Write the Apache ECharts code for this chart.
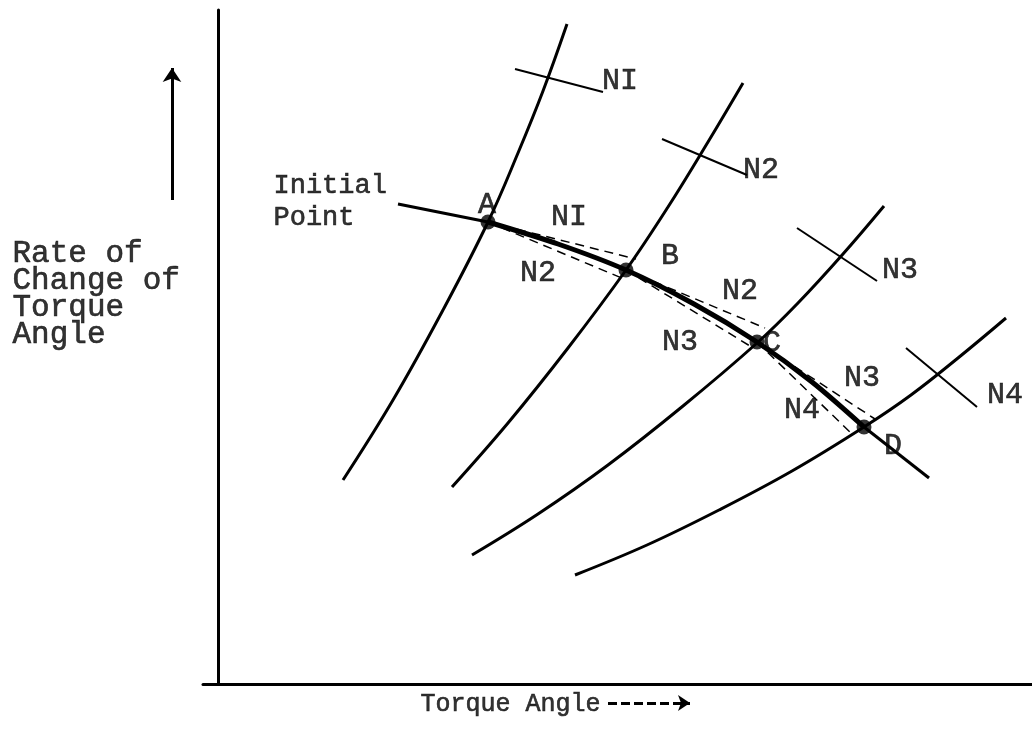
<!DOCTYPE html>
<html>
<head>
<meta charset="utf-8">
<script src="https://cdn.jsdelivr.net/npm/echarts@6/dist/echarts.min.js"></script>
<style>
  html, body { margin: 0; padding: 0; background: #fff; }
  #chart { width: 1032px; height: 731px; }
</style>
</head>
<body>
<div id="chart"></div>
<script>
// units: torque angle (x) and rate of change (y), origin at the axes corner

// constant-N curves (bottom to top)
var curveN1 = [[125, 204], [175, 284], [225, 374], [270, 462], [300, 531], [325, 593], [349, 660]];
var curveN2 = [[234, 197], [290, 261], [350, 336], [408, 414], [450, 477], [490, 542], [525, 601]];
var curveN3 = [[254, 129], [320, 170], [390, 219], [465, 278], [539, 341], [580, 381], [625, 430], [666, 478]];
var curveN4 = [[357, 109], [429, 139], [501, 174], [574, 213], [646, 257], [693, 289], [740, 326], [788, 366]];

// swing trajectory
var pathStart = [[180, 480], [270, 462]];
var pathMain = [[270, 462], [340, 440], [408, 414], [476, 380], [539, 342], [594, 302], [646, 257]];
var pathEnd = [[646, 257], [711, 206]];

// step points
var stepNames = ["A", "B", "C", "D"];
var stepX = [270, 408, 539, 646];
var stepY = [462, 414, 342, 257];

// short cross marks naming each curve
var crossMarks = [
  [[297, 615], [385, 592]],
  [[444, 545], [529, 509]],
  [[579, 456], [659, 403]],
  [[688, 336], [759, 277]]
];
var crossNames = [[402, 603, "NI"], [543, 514, "N2"], [682, 414, "N3"], [787, 289, "N4"]];

// dashed chords from each step point
var chords = [
  [[270, 462], [418, 425]],
  [[270, 462], [406, 405]],
  [[408, 414], [547, 356]],
  [[408, 414], [532, 338]],
  [[539, 342], [657, 265]],
  [[539, 342], [635, 249]]
];
var chordNames = [
  [351, 467, "NI"], [320, 411, "N2"],
  [522, 393, "N2"], [462, 342, "N3"],
  [644, 306, "N3"], [584, 274, "N4"]
];
var stepLabelPos = [[269, 479], [452, 428], [554, 341], [675, 238]];

// titles
var startText = [[55, 498, "Initial"], [55, 466, "Point"]];
var yTitle = [[-206, 390, "Rate of\nChange of\nTorque\nAngle"]];
var xTitle = [[202, -20, "Torque Angle"]];
var yArrow = [[-46, 484], [-46, 616]];
var xArrow = [[390, -19], [472, -19]];

var font = "Liberation Mono";

function curve(data) {
  return {
    type: "line", data: data, smooth: 0.4, symbol: "none", clip: false,
    lineStyle: { color: "#000", width: 3 }
  };
}
function textSeries(data, size, pos, lh) {
  return {
    type: "scatter", data: data, symbolSize: 1, clip: false,
    itemStyle: { color: "rgba(0,0,0,0)" },
    label: {
      show: true, position: pos || "inside", distance: 0,
      color: "#000", fontFamily: font, fontSize: size, lineHeight: lh || size,
      textBorderColor: "#000", textBorderWidth: 0.6,
      align: pos === "right" ? "left" : "center",
      formatter: function (p) { return p.data[2]; }
    }
  };
}

var stepPoints = stepX.map(function (x, i) { return [x, stepY[i], stepNames[i]]; });
var stepLabels = stepLabelPos.map(function (p, i) { return [p[0], p[1], stepNames[i]]; });

var option = {
  animation: false,
  backgroundColor: "#fff",
  grid: { left: 203, right: 0, top: 10, bottom: 47 },
  xAxis: {
    type: "value", min: -15, max: 814,
    axisLine: { lineStyle: { color: "#000", width: 3 } },
    axisTick: { show: false }, axisLabel: { show: false }, splitLine: { show: false }
  },
  yAxis: {
    type: "value", min: 0, max: 674,
    axisLine: { show: true, onZero: true, lineStyle: { color: "#000", width: 3 } },
    axisTick: { show: false }, axisLabel: { show: false }, splitLine: { show: false }
  },
  series: [
    curve(curveN1), curve(curveN2), curve(curveN3), curve(curveN4),
    curve(pathStart), curve(pathEnd),
    {
      type: "line", data: pathMain, smooth: 0.3, symbol: "none", clip: false,
      lineStyle: { color: "#000", width: 5 }
    },
    {
      type: "lines", coordinateSystem: "cartesian2d", clip: false,
      data: crossMarks.map(function (c) { return { coords: c }; }),
      lineStyle: { color: "#000", width: 2, opacity: 1 }
    },
    {
      type: "lines", coordinateSystem: "cartesian2d", clip: false,
      data: chords.map(function (c) { return { coords: c }; }),
      lineStyle: { color: "#000", width: 1.5, type: [9, 6], opacity: 1 }
    },
    {
      type: "lines", coordinateSystem: "cartesian2d", clip: false,
      symbol: ["none", "arrow"], symbolSize: 14,
      data: [{ coords: yArrow }],
      lineStyle: { color: "#000", width: 3, opacity: 1 }
    },
    {
      type: "lines", coordinateSystem: "cartesian2d", clip: false,
      symbol: ["none", "arrow"], symbolSize: 12,
      data: [{ coords: xArrow }],
      lineStyle: { color: "#000", width: 3, type: [9, 4], opacity: 1 }
    },
    {
      type: "scatter", data: stepPoints, symbolSize: 15, clip: false,
      itemStyle: { color: "#000" }
    },
    textSeries(stepLabels, 30),
    textSeries(crossNames, 30),
    textSeries(chordNames, 30),
    textSeries(startText, 27, "right"),
    textSeries(yTitle, 31, "right", 27),
    textSeries(xTitle, 25, "right")
  ]
};

var myChart = echarts.init(document.getElementById("chart"));
myChart.setOption(option);
</script>
</body>
</html>
